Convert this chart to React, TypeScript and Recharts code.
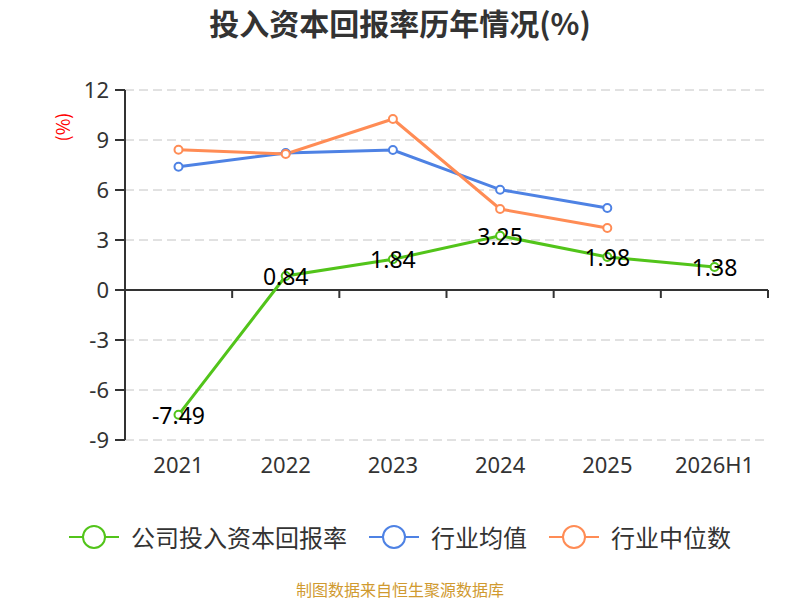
import React from "react";
import {
  LineChart,
  Line,
  XAxis,
  YAxis,
  CartesianGrid,
  ReferenceLine,
  LabelList,
} from "recharts";

const years = ["2021", "2022", "2023", "2024", "2025", "2026H1"];
const companyRoic = [-7.49, 0.84, 1.84, 3.25, 1.98, 1.38];
const industryMean = [7.4, 8.22, 8.4, 6.02, 4.92, null];
const industryMedian = [8.42, 8.16, 10.26, 4.86, 3.72, null];
const yTicks = [-9, -6, -3, 0, 3, 6, 9, 12];
const boundaries = [1, 2, 3, 4, 5, 6];

const GREEN = "#52c41a";
const BLUE = "#4e82e4";
const ORANGE = "#ff8c55";
const FONT = "'Noto Sans', 'Noto Sans CJK SC', sans-serif";
const CJK = "'Noto Sans CJK SC', sans-serif";

const chartData = years.map((year, i) => ({
  year,
  slot: i + 0.5,
  company: companyRoic[i],
  mean: industryMean[i],
  median: industryMedian[i],
}));

const legendItems = [
  { name: "公司投入资本回报率", color: GREEN },
  { name: "行业均值", color: BLUE },
  { name: "行业中位数", color: ORANGE },
];

function PointLabel(props: any) {
  const { x, y, value } = props;
  return (
    <text
      x={x}
      y={y}
      dy={0}
      textAnchor="middle"
      dominantBaseline="central"
      fontSize={23}
      fontFamily={FONT}
      fill="#000"
    >
      {value}
    </text>
  );
}

function dot(color: string) {
  return { r: 4, fill: "#fff", stroke: color, strokeWidth: 2 };
}

export default function App() {
  return (
    <div
      style={{
        position: "absolute",
        left: 0,
        top: 0,
        width: 800,
        height: 600,
        background: "#fff",
        fontFamily: FONT,
      }}
    >
      <div
        style={{
          position: "absolute",
          top: 7,
          left: 0,
          width: 800,
          textAlign: "center",
          fontSize: 30,
          lineHeight: "30px",
          fontWeight: "bold",
          color: "#333",
          fontFamily: CJK,
        }}
      >
        投入资本回报率历年情况(%)
      </div>
      <div
        style={{
          position: "absolute",
          left: 44,
          top: 116,
          width: 36,
          height: 22,
          lineHeight: "22px",
          textAlign: "center",
          fontSize: 18,
          color: "#f00",
          transform: "rotate(-90deg)",
          fontFamily: CJK,
        }}
      >
        (%)
      </div>
      <LineChart
        width={800}
        height={600}
        data={chartData}
        margin={{ top: 90, right: 32, bottom: 130, left: 0 }}
      >
        <CartesianGrid
          xAxisId="c"
          vertical={false}
          stroke="#c4c4c4"
          strokeDasharray="9 5"
        />
        <XAxis
          xAxisId="c"
          dataKey="year"
          axisLine={false}
          tickLine={false}
          tickSize={0}
          tickMargin={17}
          height={30}
          padding={{ left: 53.5, right: 53.5 }}
          tick={{ fontSize: 22, fill: "#333", fontFamily: FONT }}
          interval={0}
        />
        <XAxis
          xAxisId="n"
          dataKey="slot"
          type="number"
          domain={[0, 6]}
          allowDataOverflow
          hide
        />
        <YAxis
          width={125}
          domain={[-9, 12]}
          ticks={yTicks}
          interval={0}
          axisLine={{ stroke: "#333", strokeWidth: 2 }}
          tickLine={{ stroke: "#333", strokeWidth: 2 }}
          tickSize={10}
          tickMargin={6}
          tick={{ fontSize: 22, fill: "#333", fontFamily: FONT }}
        />
        <ReferenceLine xAxisId="c" y={0} stroke="#333" strokeWidth={2} />
        {boundaries.map((b) => (
          <ReferenceLine
            key={b}
            xAxisId="n"
            segment={[
              { x: b, y: 0 },
              { x: b, y: -0.48 },
            ]}
            stroke="#333"
            strokeWidth={2}
            ifOverflow="visible"
          />
        ))}
        <Line
          xAxisId="c"
          dataKey="mean"
          stroke={BLUE}
          strokeWidth={3}
          dot={dot(BLUE)}
          activeDot={false}
          isAnimationActive={false}
        />
        <Line
          xAxisId="c"
          dataKey="median"
          stroke={ORANGE}
          strokeWidth={3}
          dot={dot(ORANGE)}
          activeDot={false}
          isAnimationActive={false}
        />
        <Line
          xAxisId="c"
          dataKey="company"
          stroke={GREEN}
          strokeWidth={3}
          dot={dot(GREEN)}
          activeDot={false}
          isAnimationActive={false}
        >
          <LabelList dataKey="company" content={PointLabel} />
        </Line>
      </LineChart>
      <div
        style={{
          position: "absolute",
          top: 524,
          left: 0,
          width: 800,
          display: "flex",
          justifyContent: "center",
          gap: 22,
          fontFamily: CJK,
        }}
      >
        {legendItems.map((item) => (
          <div
            key={item.name}
            style={{ display: "flex", alignItems: "center", height: 26 }}
          >
            <svg width={50} height={26}>
              <line
                x1={0}
                y1={13}
                x2={50}
                y2={13}
                stroke={item.color}
                strokeWidth={2}
              />
              <circle
                cx={25}
                cy={13}
                r={11}
                fill="#fff"
                stroke={item.color}
                strokeWidth={2}
              />
            </svg>
            <span
              style={{
                marginLeft: 12,
                fontSize: 24,
                lineHeight: "26px",
                color: "#333",
              }}
            >
              {item.name}
            </span>
          </div>
        ))}
      </div>
      <div
        style={{
          position: "absolute",
          top: 579,
          left: 0,
          width: 800,
          textAlign: "center",
          fontSize: 16,
          lineHeight: "20px",
          color: "#d09a30",
          fontFamily: CJK,
        }}
      >
        制图数据来自恒生聚源数据库
      </div>
    </div>
  );
}
